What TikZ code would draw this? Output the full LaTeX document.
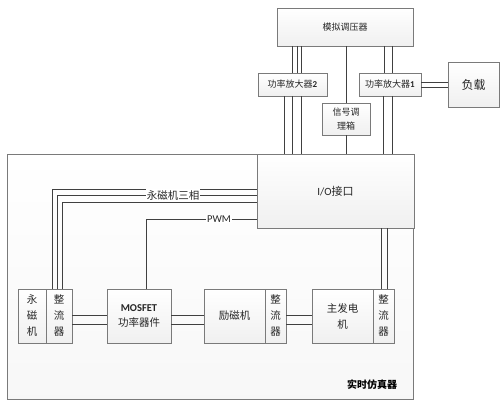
\documentclass[tikz,border=0pt]{standalone}
\usepackage{fontspec}
\setmainfont{Carlito}
\newfontfamily\cjk{Noto Sans CJK SC}
\usetikzlibrary{shadows,calc}
\definecolor{bord}{HTML}{7A7A7A}
\definecolor{wire}{HTML}{404040}
\definecolor{txt}{HTML}{262626}
\begin{document}
\begin{tikzpicture}[x=1pt,y=-1pt,
  box/.style={draw=bord, line width=0.8pt, top color=white, bottom color=gray!12,
    drop shadow={shadow xshift=1.2pt, shadow yshift=-1.2pt, opacity=0.25},
    inner sep=0pt, align=center, text=txt, font=\cjk\fontsize{9}{11}\selectfont},
  wireln/.style={draw=wire, line width=0.8pt},
  lbl/.style={fill=white, inner sep=1pt, text=txt}]
\useasboundingbox (0,0) rectangle (500,400);
% big box
\node[box, top color=white, bottom color=gray!6, minimum width=406pt, minimum height=245pt] (sim) at (210,276.5) {};
\node[font=\cjk\bfseries\fontsize{10}{12}\selectfont, anchor=center] (simlbl) at (372,385) {实时仿真器};
% top boxes
\node[box, minimum width=136pt, minimum height=38pt] (ctrl) at (345,27) {模拟调压器};
\node[box, minimum width=69pt, minimum height=23pt] (amp2) at (292.5,84.5) {功率放大器{\fontspec{Carlito}\bfseries 2}};
\node[box, minimum width=62pt, minimum height=23pt] (amp1) at (390,84.5) {功率放大器{\fontspec{Carlito}\bfseries 1}};
\node[box, minimum width=51pt, minimum height=45pt, font=\cjk\fontsize{12}{14}\selectfont] (load) at (473.5,84.5) {负载};
% wires top
\foreach \xx in {292,297,301} \draw[wireln] (\xx,0 |- ctrl.south) -- (\xx,0 |- amp2.north);
\foreach \xx in {284,292,301} \draw[wireln] (\xx,0 |- amp2.south) -- (\xx,0 |- sim.north);
\foreach \xx in {384,392} \draw[wireln] (\xx,0 |- ctrl.south) -- (\xx,0 |- amp1.north);
\foreach \xx in {383,392} \draw[wireln] (\xx,0 |- amp1.south) -- (\xx,0 |- sim.north);
\foreach \yy in {82.5,87} \draw[wireln] (amp1.east |- 0,\yy) -- (load.west |- 0,\yy);
\node[box, minimum width=48pt, minimum height=32pt, font=\cjk\fontsize{9}{14}\selectfont] (sig) at (346,119) {信号调\\理箱};
\draw[wireln] (ctrl.south -| sig.north) -- (sig.north);
\draw[wireln] (sig.south) -- (sig.south |- sim.north);
% io
\node[box, minimum width=157pt, minimum height=74pt, font=\fontsize{11}{13}\selectfont] (io) at (335.5,191) {I/O{\cjk 接口}};
% bottom row
\node[box, minimum width=28pt, minimum height=54pt, font=\cjk\fontsize{10.5}{16}\selectfont] (pm) at (32,316) {永\\磁\\机};
\node[box, minimum width=26pt, minimum height=54pt, font=\cjk\fontsize{10.5}{16}\selectfont] (rec1) at (59,316) {整\\流\\器};
\node[box, minimum width=64pt, minimum height=54pt, font=\cjk\fontsize{10.5}{15}\selectfont] (mos) at (139,316) {{\fontspec{Carlito}\bfseries MOSFET}\\功率器件};
\node[box, minimum width=61pt, minimum height=54pt, font=\cjk\fontsize{10.5}{15}\selectfont] (exc) at (234.5,316) {励磁机};
\node[box, minimum width=21pt, minimum height=54pt, font=\cjk\fontsize{10.5}{16}\selectfont] (rec2) at (275.5,316) {整\\流\\器};
\node[box, minimum width=61pt, minimum height=54pt, font=\cjk\fontsize{10.5}{16}\selectfont] (gen) at (342.5,316) {主发电\\机};
\node[box, minimum width=21pt, minimum height=54pt, font=\cjk\fontsize{10.5}{16}\selectfont] (rec3) at (383.5,316) {整\\流\\器};
% io -> rec3
\foreach \xx in {381,387} \draw[wireln] (\xx,0 |- io.south) -- (\xx,0 |- rec3.north);
% three-phase
\draw[wireln] (io.west |- 0,189) -- (52,189) -- (52,0 |- rec1.north);
\draw[wireln] (io.west |- 0,195) -- (57,195) -- (57,0 |- rec1.north);
\draw[wireln] (io.west |- 0,202) -- (62,202) -- (62,0 |- rec1.north);
\node[lbl, font=\cjk\fontsize{10.5}{12}\selectfont] (tp) at (173,195) {永磁机三相};
% PWM
\draw[wireln] (io.west |- 0,219) -- (146,219) -- (146,0 |- mos.north);
\node[lbl, font=\fontsize{10.5}{12}\selectfont] (pwm) at (219,219) {PWM};
% horizontal pairs
\foreach \yy in {315,324} {
  \draw[wireln] (rec1.east |- 0,\yy) -- (mos.west |- 0,\yy);
  \draw[wireln] (mos.east |- 0,\yy) -- (exc.west |- 0,\yy);
  \draw[wireln] (rec2.east |- 0,\yy) -- (gen.west |- 0,\yy);
}
\end{tikzpicture}
\end{document}
